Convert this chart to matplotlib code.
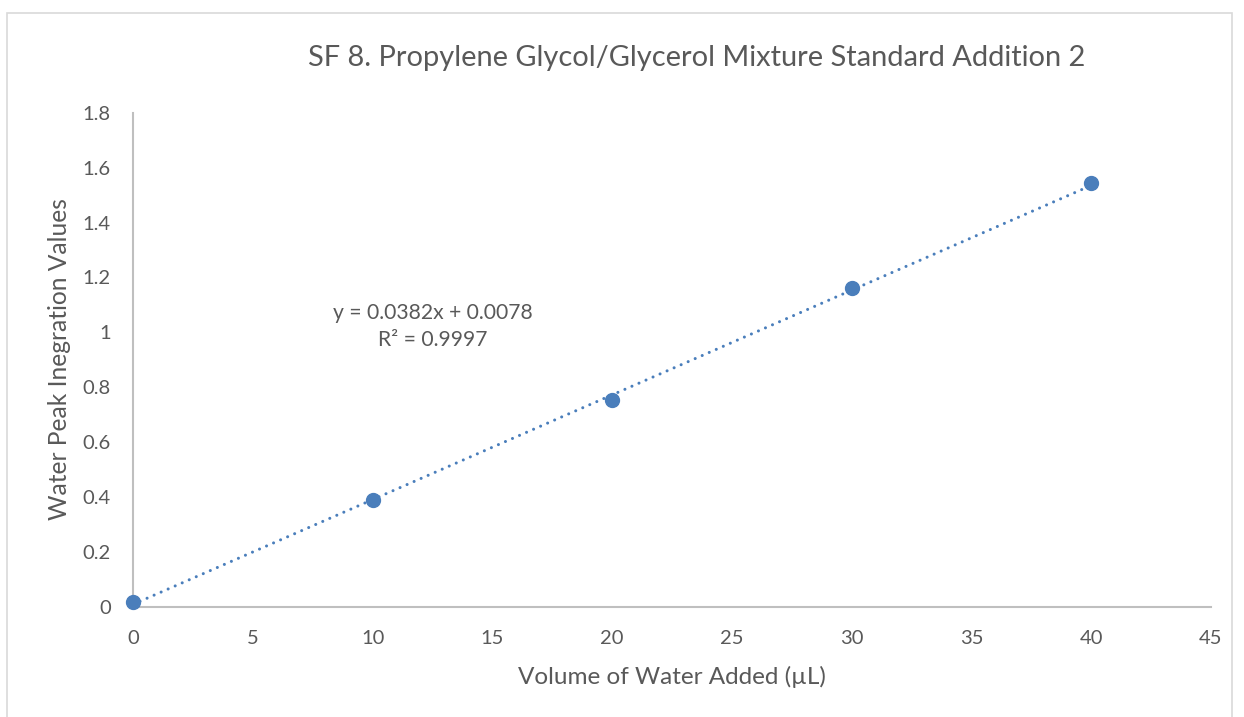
import matplotlib
matplotlib.use("Agg")
import matplotlib.pyplot as plt
import numpy as np
from matplotlib.patches import Rectangle

plt.rcParams['font.family'] = ['Lato', 'DejaVu Sans']

volume = [0, 10, 20, 30, 40]
peak = [0.015, 0.39, 0.752, 1.161, 1.544]
slope = 0.0382
intercept = 0.0078
r2 = 0.9997
xticks = [0, 5, 10, 15, 20, 25, 30, 35, 40, 45]
yticks = [0, 0.2, 0.4, 0.6, 0.8, 1.0, 1.2, 1.4, 1.6, 1.8]
ytick_labels = ['0', '0.2', '0.4', '0.6', '0.8', '1', '1.2', '1.4', '1.6', '1.8']

W, H = 1244, 717
fig = plt.figure(figsize=(W/100, H/100), dpi=100)
fig.patches.append(Rectangle((7/W, -0.01), (1232-7)/W, (H-13)/H + 0.01, transform=fig.transFigure,
                             fill=False, edgecolor='#d9d9d9', linewidth=1.2))

ax = fig.add_axes([133/W, 1-606.5/H, (1211-133)/W, (606.5-113)/H])
grey = '#595959'
ax.set_xlim(0, 45)
ax.set_ylim(0, 1.8)
ax.set_xticks(xticks)
ax.set_yticks(yticks)
ax.set_yticklabels(ytick_labels)
ax.tick_params(length=0, labelsize=14.5, labelcolor=grey)
ax.tick_params(axis='x', pad=17)
ax.tick_params(axis='y', pad=16)
for s in ['top', 'right']:
    ax.spines[s].set_visible(False)
for s in ['left', 'bottom']:
    ax.spines[s].set_color('#bfbfbf')
    ax.spines[s].set_linewidth(1.5)

xt = np.array([0, 40])
ax.plot(xt, slope*xt + intercept, linestyle=(0, (0.01, 2.5)), color='#4a7ebb', linewidth=2.2,
        dash_capstyle='round', zorder=2)
ax.plot(volume, peak, 'o', color='#4a7ebb', markersize=10, zorder=3, clip_on=False)

px_per_x = 1078/45
px_per_y = 493.5/1.8
ax.text((433-133)/px_per_x, (606.5-313)/px_per_y,
        f'y = {slope}x + {intercept}', ha='center', va='center', fontsize=15.2, color=grey)
ax.text((433-133)/px_per_x, (606.5-340)/px_per_y,
        f'R² = {r2}', ha='center', va='center', fontsize=15.2, color=grey)

fig.text(697/W, 1-58/H, 'SF 8. Propylene Glycol/Glycerol Mixture Standard Addition 2',
         ha='center', va='center', fontsize=20.9, color=grey)
fig.text(672/W, 1-677/H, 'Volume of Water Added (µL)', ha='center', va='center', fontsize=17.5, color=grey)
fig.text(60/W, 1-359/H, 'Water Peak Inegration Values', ha='center', va='center', rotation=90, fontsize=17.7, color=grey)

fig.savefig('out.png', dpi=100)
